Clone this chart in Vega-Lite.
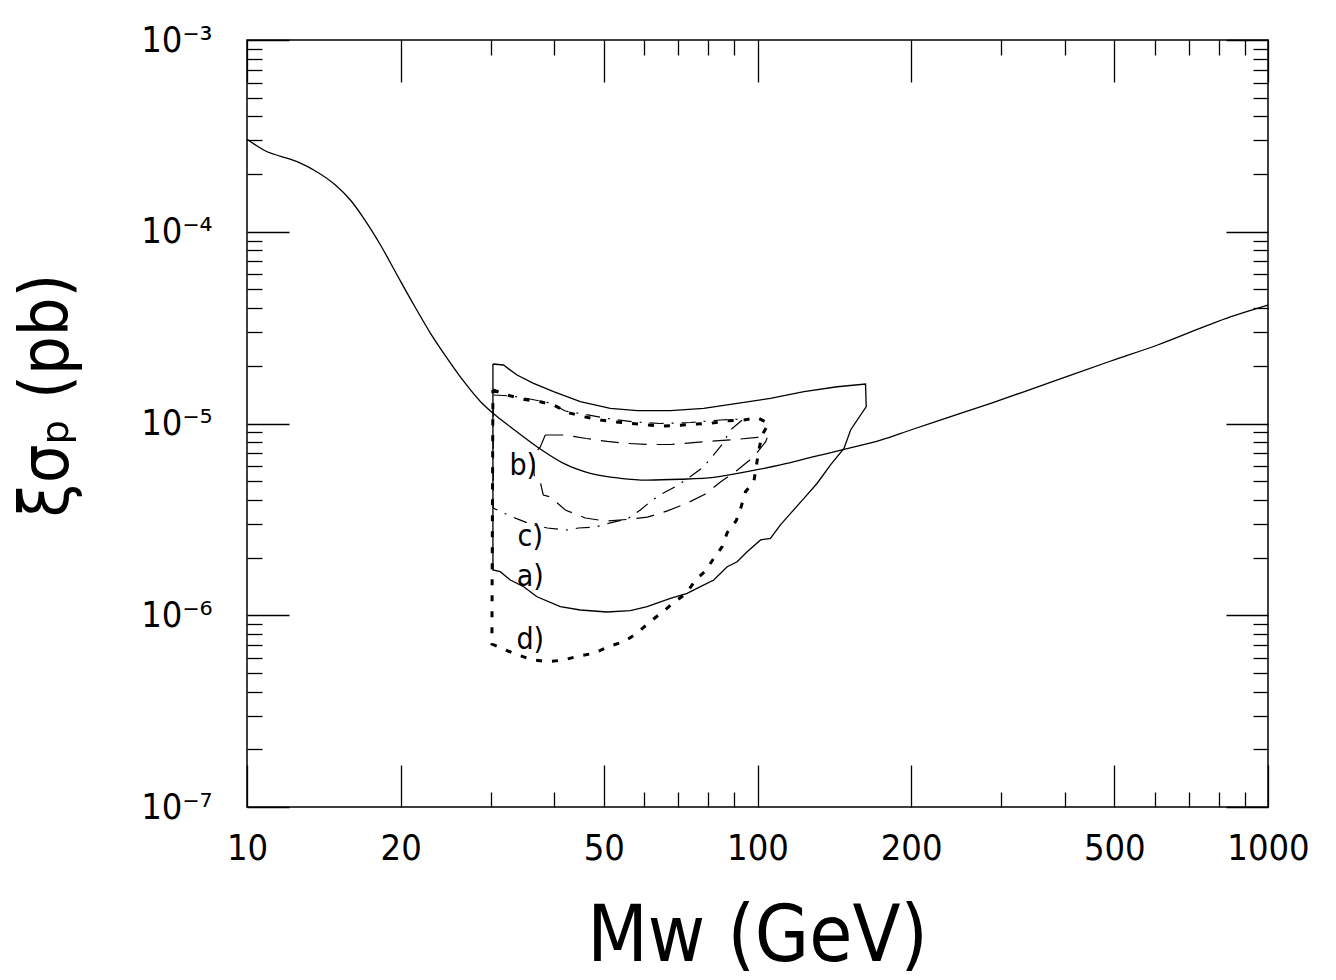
{
  "$schema": "https://vega.github.io/schema/vega-lite/v6.json",
  "width": 1021,
  "height": 767,
  "autosize": "none",
  "padding": {"left": 247, "top": 40, "right": 68, "bottom": 173},
  "background": "white",
  "config": {
    "font": "DejaVu Sans Condensed",
    "view": {"stroke": "black", "strokeWidth": 1.5},
    "axis": {"tickColor": "black", "tickWidth": 1.3, "labelColor": "black", "titleColor": "black", "labelFont": "DejaVu Sans Condensed", "titleFont": "DejaVu Sans Condensed", "labelFontWeight": 300, "titleFontWeight": 300}
  },
  "datasets": {
    "main": [
      {"i": 1, "m": 10, "s": 3.034e-4}, {"i": 2, "m": 10.78, "s": 2.669e-4}, {"i": 3, "m": 12.53, "s": 2.319e-4},
      {"i": 4, "m": 13.51, "s": 2.10e-4}, {"i": 5, "m": 14.90, "s": 1.753e-4}, {"i": 6, "m": 15.94, "s": 1.464e-4},
      {"i": 7, "m": 16.93, "s": 1.175e-4}, {"i": 8, "m": 18.26, "s": 8.53e-5}, {"i": 9, "m": 19.68, "s": 5.95e-5},
      {"i": 10, "m": 21.23, "s": 4.15e-5}, {"i": 11, "m": 22.88, "s": 2.954e-5}, {"i": 12, "m": 24.67, "s": 2.188e-5},
      {"i": 13, "m": 26.61, "s": 1.652e-5}, {"i": 14, "m": 28.68, "s": 1.299e-5}, {"i": 15, "m": 30.92, "s": 1.085e-5},
      {"i": 16, "m": 32.79, "s": 9.62e-6}, {"i": 17, "m": 36.99, "s": 7.57e-6}, {"i": 18, "m": 41.70, "s": 6.20e-6},
      {"i": 19, "m": 47.05, "s": 5.50e-6}, {"i": 20, "m": 53.86, "s": 5.18e-6}, {"i": 21, "m": 60.77, "s": 5.07e-6},
      {"i": 22, "m": 70.64, "s": 5.12e-6}, {"i": 23, "m": 82.10, "s": 5.24e-6}, {"i": 24, "m": 95.45, "s": 5.61e-6},
      {"i": 25, "m": 110.9, "s": 6.08e-6}, {"i": 26, "m": 128.9, "s": 6.71e-6}, {"i": 27, "m": 147.7, "s": 7.33e-6},
      {"i": 28, "m": 174.3, "s": 8.20e-6}, {"i": 29, "m": 199.5, "s": 9.25e-6}, {"i": 30, "m": 239.0, "s": 1.085e-5},
      {"i": 31, "m": 286.4, "s": 1.274e-5}, {"i": 32, "m": 343.0, "s": 1.508e-5}, {"i": 33, "m": 411.0, "s": 1.790e-5},
      {"i": 34, "m": 492.2, "s": 2.118e-5}, {"i": 35, "m": 607.8, "s": 2.567e-5}, {"i": 36, "m": 750.3, "s": 3.198e-5},
      {"i": 37, "m": 846.1, "s": 3.606e-5}, {"i": 38, "m": 1000, "s": 4.15e-5}
    ],
    "a": [
      {"i": 1, "m": 30.32, "s": 2.043e-5}, {"i": 2, "m": 31.80, "s": 2.019e-5}, {"i": 3, "m": 33.80, "s": 1.790e-5},
      {"i": 4, "m": 36.42, "s": 1.620e-5}, {"i": 5, "m": 39.86, "s": 1.465e-5}, {"i": 6, "m": 44.97, "s": 1.299e-5},
      {"i": 7, "m": 51.49, "s": 1.200e-5}, {"i": 8, "m": 58.10, "s": 1.166e-5}, {"i": 9, "m": 67.52, "s": 1.166e-5},
      {"i": 10, "m": 78.46, "s": 1.200e-5}, {"i": 11, "m": 91.25, "s": 1.274e-5}, {"i": 12, "m": 106.0, "s": 1.353e-5},
      {"i": 13, "m": 123.3, "s": 1.465e-5}, {"i": 14, "m": 143.3, "s": 1.555e-5}, {"i": 15, "m": 162.8, "s": 1.607e-5},
      {"i": 16, "m": 163.3, "s": 1.224e-5}, {"i": 17, "m": 152.2, "s": 9.25e-6}, {"i": 18, "m": 147.7, "s": 7.42e-6},
      {"i": 19, "m": 139.0, "s": 6.08e-6}, {"i": 20, "m": 130.9, "s": 4.88e-6}, {"i": 21, "m": 123.3, "s": 4.07e-6},
      {"i": 22, "m": 116.1, "s": 3.40e-6}, {"i": 23, "m": 110.9, "s": 2.96e-6}, {"i": 24, "m": 106.0, "s": 2.52e-6},
      {"i": 25, "m": 101.4, "s": 2.47e-6}, {"i": 26, "m": 95.45, "s": 2.145e-6}, {"i": 27, "m": 91.25, "s": 1.902e-6},
      {"i": 28, "m": 87.22, "s": 1.791e-6}, {"i": 29, "m": 82.10, "s": 1.527e-6}, {"i": 30, "m": 77.31, "s": 1.409e-6},
      {"i": 31, "m": 72.80, "s": 1.302e-6}, {"i": 32, "m": 67.52, "s": 1.226e-6}, {"i": 33, "m": 60.77, "s": 1.108e-6},
      {"i": 34, "m": 56.37, "s": 1.056e-6}, {"i": 35, "m": 50.73, "s": 1.040e-6}, {"i": 36, "m": 44.97, "s": 1.065e-6},
      {"i": 37, "m": 41.09, "s": 1.108e-6}, {"i": 38, "m": 36.99, "s": 1.249e-6}, {"i": 39, "m": 34.83, "s": 1.409e-6},
      {"i": 40, "m": 32.79, "s": 1.527e-6}, {"i": 41, "m": 31.34, "s": 1.687e-6}, {"i": 42, "m": 30.32, "s": 1.722e-6},
      {"i": 43, "m": 30.32, "s": 2.043e-5}
    ],
    "b": [
      {"i": 1, "m": 38.40, "s": 8.71e-6}, {"i": 2, "m": 42.03, "s": 8.71e-6}, {"i": 3, "m": 46.20, "s": 8.35e-6},
      {"i": 4, "m": 50.80, "s": 8.06e-6}, {"i": 5, "m": 55.60, "s": 7.87e-6}, {"i": 6, "m": 61.69, "s": 7.77e-6},
      {"i": 7, "m": 67.52, "s": 7.77e-6}, {"i": 8, "m": 74.90, "s": 7.94e-6}, {"i": 9, "m": 82.73, "s": 8.12e-6},
      {"i": 10, "m": 91.37, "s": 8.27e-6}, {"i": 11, "m": 100.0, "s": 8.47e-6}, {"i": 12, "m": 104.6, "s": 8.50e-6},
      {"i": 13, "m": 103.7, "s": 8.01e-6}, {"i": 14, "m": 98.21, "s": 6.69e-6}, {"i": 15, "m": 91.37, "s": 5.72e-6},
      {"i": 16, "m": 84.62, "s": 4.95e-6}, {"i": 17, "m": 79.07, "s": 4.29e-6}, {"i": 18, "m": 72.90, "s": 3.85e-6},
      {"i": 19, "m": 66.61, "s": 3.50e-6}, {"i": 20, "m": 60.86, "s": 3.25e-6}, {"i": 21, "m": 55.60, "s": 3.16e-6},
      {"i": 22, "m": 50.35, "s": 3.10e-6}, {"i": 23, "m": 46.00, "s": 3.215e-6}, {"i": 24, "m": 42.03, "s": 3.54e-6},
      {"i": 25, "m": 39.28, "s": 4.14e-6}, {"i": 26, "m": 38.05, "s": 4.24e-6}, {"i": 27, "m": 37.54, "s": 4.95e-6},
      {"i": 28, "m": 36.54, "s": 5.26e-6}, {"i": 29, "m": 36.37, "s": 6.85e-6}, {"i": 30, "m": 37.54, "s": 7.54e-6},
      {"i": 31, "m": 38.40, "s": 8.71e-6}
    ],
    "c": [
      {"i": 1, "m": 30.36, "s": 1.408e-5}, {"i": 2, "m": 33.10, "s": 1.391e-5}, {"i": 3, "m": 35.40, "s": 1.350e-5},
      {"i": 4, "m": 39.28, "s": 1.279e-5}, {"i": 5, "m": 42.03, "s": 1.162e-5}, {"i": 6, "m": 46.00, "s": 1.114e-5},
      {"i": 7, "m": 51.49, "s": 1.056e-5}, {"i": 8, "m": 57.65, "s": 1.018e-5}, {"i": 9, "m": 64.54, "s": 1.000e-5},
      {"i": 10, "m": 73.90, "s": 1.012e-5}, {"i": 11, "m": 84.62, "s": 1.043e-5}, {"i": 12, "m": 93.88, "s": 1.056e-5},
      {"i": 13, "m": 88.52, "s": 9.25e-6}, {"i": 14, "m": 85.38, "s": 7.82e-6}, {"i": 15, "m": 81.98, "s": 6.85e-6},
      {"i": 16, "m": 78.36, "s": 5.93e-6}, {"i": 17, "m": 74.57, "s": 5.39e-6}, {"i": 18, "m": 70.00, "s": 4.78e-6},
      {"i": 19, "m": 65.42, "s": 4.34e-6}, {"i": 20, "m": 62.25, "s": 3.99e-6}, {"i": 21, "m": 58.96, "s": 3.54e-6},
      {"i": 22, "m": 55.60, "s": 3.18e-6}, {"i": 23, "m": 51.49, "s": 3.03e-6}, {"i": 24, "m": 48.12, "s": 2.885e-6},
      {"i": 25, "m": 44.57, "s": 2.851e-6}, {"i": 26, "m": 42.41, "s": 2.783e-6}, {"i": 27, "m": 38.75, "s": 2.851e-6},
      {"i": 28, "m": 35.89, "s": 2.991e-6}, {"i": 29, "m": 33.84, "s": 3.18e-6}, {"i": 30, "m": 31.77, "s": 3.414e-6},
      {"i": 31, "m": 30.36, "s": 3.625e-6}, {"i": 32, "m": 30.36, "s": 1.408e-5}
    ],
    "d": [
      {"i": 1, "m": 30.32, "s": 1.495e-5}, {"i": 2, "m": 32.31, "s": 1.408e-5}, {"i": 3, "m": 34.81, "s": 1.337e-5},
      {"i": 4, "m": 37.54, "s": 1.299e-5}, {"i": 5, "m": 39.86, "s": 1.249e-5}, {"i": 6, "m": 42.66, "s": 1.138e-5},
      {"i": 7, "m": 45.64, "s": 1.085e-5}, {"i": 8, "m": 49.22, "s": 1.043e-5}, {"i": 9, "m": 52.27, "s": 1.022e-5},
      {"i": 10, "m": 56.37, "s": 1.002e-5}, {"i": 11, "m": 60.77, "s": 9.82e-6}, {"i": 12, "m": 65.51, "s": 9.70e-6},
      {"i": 13, "m": 70.64, "s": 9.79e-6}, {"i": 14, "m": 76.17, "s": 9.94e-6}, {"i": 15, "m": 80.87, "s": 1.002e-5},
      {"i": 16, "m": 87.22, "s": 1.034e-5}, {"i": 17, "m": 94.00, "s": 1.043e-5}, {"i": 18, "m": 99.86, "s": 1.072e-5},
      {"i": 19, "m": 105.2, "s": 1.002e-5}, {"i": 20, "m": 102.1, "s": 8.71e-6}, {"i": 21, "m": 100.6, "s": 7.27e-6},
      {"i": 22, "m": 99.55, "s": 6.08e-6}, {"i": 23, "m": 98.35, "s": 4.97e-6}, {"i": 24, "m": 94.73, "s": 4.41e-6},
      {"i": 25, "m": 92.90, "s": 3.68e-6}, {"i": 26, "m": 90.83, "s": 3.11e-6}, {"i": 27, "m": 87.22, "s": 2.695e-6},
      {"i": 28, "m": 85.26, "s": 2.278e-6}, {"i": 29, "m": 82.10, "s": 1.982e-6}, {"i": 30, "m": 79.07, "s": 1.701e-6},
      {"i": 31, "m": 75.58, "s": 1.527e-6}, {"i": 32, "m": 72.57, "s": 1.302e-6}, {"i": 33, "m": 68.53, "s": 1.163e-6},
      {"i": 34, "m": 65.04, "s": 1.036e-6}, {"i": 35, "m": 61.23, "s": 9.14e-7}, {"i": 36, "m": 58.10, "s": 8.05e-7},
      {"i": 37, "m": 54.69, "s": 7.28e-7}, {"i": 38, "m": 51.49, "s": 6.91e-7}, {"i": 39, "m": 47.76, "s": 6.33e-7},
      {"i": 40, "m": 44.63, "s": 6.13e-7}, {"i": 41, "m": 41.70, "s": 5.84e-7}, {"i": 42, "m": 38.70, "s": 5.72e-7},
      {"i": 43, "m": 35.89, "s": 5.89e-7}, {"i": 44, "m": 33.53, "s": 6.28e-7}, {"i": 45, "m": 31.58, "s": 6.72e-7},
      {"i": 46, "m": 30.18, "s": 7.08e-7}, {"i": 47, "m": 30.32, "s": 1.495e-5}
    ],
    "labels": [
      {"m": 34.77, "s": 6.0e-6, "t": "b)"},
      {"m": 35.88, "s": 2.56e-6, "t": "c)"},
      {"m": 35.88, "s": 1.58e-6, "t": "a)"},
      {"m": 35.88, "s": 7.43e-7, "t": "d)"}
    ]
  },
  "resolve": {"axis": {"x": "independent", "y": "independent"}},
  "layer": [
    {
      "data": {"name": "main"},
      "mark": {"type": "line", "color": "black", "strokeWidth": 1.3, "interpolate": "monotone"},
      "encoding": {
        "x": {"field": "m", "type": "quantitative",
          "scale": {"type": "log", "domain": [10, 1000], "nice": false},
          "axis": {
            "orient": "bottom",
            "values": [10, 20, 30, 40, 50, 60, 70, 80, 90, 100, 200, 300, 400, 500, 600, 700, 800, 900, 1000],
            "tickSize": {"condition": {"test": "indexof([10,20,50,100,200,500,1000], datum.value) >= 0", "value": -42}, "value": -15},
            "labelExpr": "indexof([10,20,50,100,200,500,1000], datum.value) >= 0 ? format(datum.value, 'd') : ''",
            "labelPadding": 66, "labelBaseline": "top", "labelFontSize": 36,
            "labelOverlap": false, "labelFlush": false,
            "domain": false, "grid": false,
            "title": "Mᴡ (GeV)", "titleFontSize": 78,
            "titleX": 510, "titleY": 153, "titleBaseline": "alphabetic", "titleAlign": "center"
          }
        },
        "y": {"field": "s", "type": "quantitative",
          "scale": {"type": "log", "domain": [1e-7, 1e-3], "nice": false},
          "axis": {
            "orient": "left",
            "values": [1e-7, 2e-7, 3e-7, 4e-7, 5e-7, 6e-7, 7e-7, 8e-7, 9e-7, 1e-6, 2e-6, 3e-6, 4e-6, 5e-6, 6e-6, 7e-6, 8e-6, 9e-6, 1e-5, 2e-5, 3e-5, 4e-5, 5e-5, 6e-5, 7e-5, 8e-5, 9e-5, 1e-4, 2e-4, 3e-4, 4e-4, 5e-4, 6e-4, 7e-4, 8e-4, 9e-4, 1e-3],
            "tickSize": {"condition": {"test": "abs(log(datum.value)/LN10 - round(log(datum.value)/LN10)) < 0.01", "value": -42}, "value": -15},
            "labelExpr": "abs(log(datum.value)/LN10 - round(log(datum.value)/LN10)) < 0.01 ? '10⁻' + ['⁰','¹','²','³','⁴','⁵','⁶','⁷','⁸','⁹'][round(-log(datum.value)/LN10)] : ''",
            "labelPadding": 77, "labelFontSize": 36, "labelOverlap": false, "labelBaseline": "middle",
            "domain": false, "grid": false,
            "title": "ξσₚ (pb)", "titleFontSize": 68,
            "titleX": -200, "titleY": 355, "titleAngle": 270, "titleAlign": "center", "titleBaseline": "middle"
          }
        },
        "order": {"field": "i", "type": "quantitative"}
      }
    },
    {
      "data": {"name": "a"},
      "mark": {"type": "line", "color": "black", "strokeWidth": 1.3},
      "encoding": {
        "x": {"field": "m", "type": "quantitative",
          "scale": {"type": "log", "domain": [10, 1000], "nice": false},
          "axis": {
            "orient": "top",
            "values": [10, 20, 30, 40, 50, 60, 70, 80, 90, 100, 200, 300, 400, 500, 600, 700, 800, 900, 1000],
            "tickSize": {"condition": {"test": "indexof([10,20,50,100,200,500,1000], datum.value) >= 0", "value": -42}, "value": -15},
            "labels": false, "domain": false, "grid": false, "title": null
          }
        },
        "y": {"field": "s", "type": "quantitative",
          "scale": {"type": "log", "domain": [1e-7, 1e-3], "nice": false},
          "axis": {
            "orient": "right",
            "values": [1e-7, 2e-7, 3e-7, 4e-7, 5e-7, 6e-7, 7e-7, 8e-7, 9e-7, 1e-6, 2e-6, 3e-6, 4e-6, 5e-6, 6e-6, 7e-6, 8e-6, 9e-6, 1e-5, 2e-5, 3e-5, 4e-5, 5e-5, 6e-5, 7e-5, 8e-5, 9e-5, 1e-4, 2e-4, 3e-4, 4e-4, 5e-4, 6e-4, 7e-4, 8e-4, 9e-4, 1e-3],
            "tickSize": {"condition": {"test": "abs(log(datum.value)/LN10 - round(log(datum.value)/LN10)) < 0.01", "value": -42}, "value": -15},
            "labels": false, "domain": false, "grid": false, "title": null
          }
        },
        "order": {"field": "i", "type": "quantitative"}
      }
    },
    {
      "data": {"name": "b"},
      "mark": {"type": "line", "color": "black", "strokeWidth": 1.2, "strokeDash": [18, 10]},
      "encoding": {
        "x": {"field": "m", "type": "quantitative", "scale": {"type": "log", "domain": [10, 1000], "nice": false}, "axis": null},
        "y": {"field": "s", "type": "quantitative", "scale": {"type": "log", "domain": [1e-7, 1e-3], "nice": false}, "axis": null},
        "order": {"field": "i", "type": "quantitative"}
      }
    },
    {
      "data": {"name": "c"},
      "mark": {"type": "line", "color": "black", "strokeWidth": 1.2, "strokeDash": [14, 8, 2, 8]},
      "encoding": {
        "x": {"field": "m", "type": "quantitative", "scale": {"type": "log", "domain": [10, 1000], "nice": false}, "axis": null},
        "y": {"field": "s", "type": "quantitative", "scale": {"type": "log", "domain": [1e-7, 1e-3], "nice": false}, "axis": null},
        "order": {"field": "i", "type": "quantitative"}
      }
    },
    {
      "data": {"name": "d"},
      "mark": {"type": "line", "color": "black", "strokeWidth": 3, "strokeDash": [6, 10], "strokeCap": "butt"},
      "encoding": {
        "x": {"field": "m", "type": "quantitative", "scale": {"type": "log", "domain": [10, 1000], "nice": false}, "axis": null},
        "y": {"field": "s", "type": "quantitative", "scale": {"type": "log", "domain": [1e-7, 1e-3], "nice": false}, "axis": null},
        "order": {"field": "i", "type": "quantitative"}
      }
    },
    {
      "data": {"name": "labels"},
      "mark": {"type": "text", "color": "black", "fontSize": 30, "fontWeight": 300, "align": "center", "baseline": "middle", "font": "DejaVu Sans Condensed"},
      "encoding": {
        "x": {"field": "m", "type": "quantitative", "scale": {"type": "log", "domain": [10, 1000], "nice": false}, "axis": null},
        "y": {"field": "s", "type": "quantitative", "scale": {"type": "log", "domain": [1e-7, 1e-3], "nice": false}, "axis": null},
        "text": {"field": "t", "type": "nominal"}
      }
    }
  ]
}
